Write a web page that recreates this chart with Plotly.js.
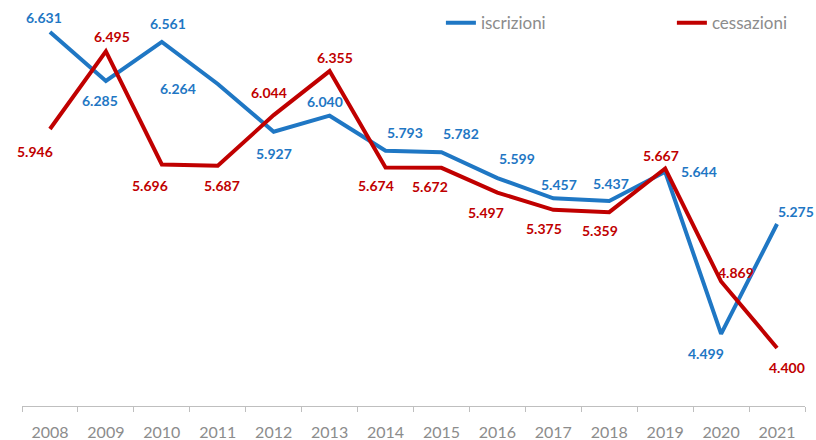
<!DOCTYPE html>
<html>
<head>
<meta charset="utf-8">
<script src="https://cdn.plot.ly/plotly-3.0.1.min.js"></script>
<style>html,body{margin:0;padding:0;background:#fff;}#chart{width:816px;height:440px;}</style>
</head>
<body>
<div id="chart"></div>
<script>
// ---- data ----
var years = ['2008','2009','2010','2011','2012','2013','2014','2015','2016','2017','2018','2019','2020','2021'];
var iscrizioni = [6631, 6285, 6561, 6264, 5927, 6040, 5793, 5782, 5599, 5457, 5437, 5644, 4499, 5275];
var cessazioni = [5946, 6495, 5696, 5687, 6044, 6355, 5674, 5672, 5497, 5375, 5359, 5667, 4869, 4400];

// ---- label placement (pixel offsets from each point) ----
var iscShiftX = [-6, -6, 6, -40, 0, -5, 19, 20, 20, 6, 2, 34, -15, 19];
var iscShiftY = [15, -19, 18, -5, -22, 14, 18, 19, 20, 14, 18, 0, -20, 13];
var cesShiftX = [-15, 6, -12, 4, -5, 5, -10, -11, -11, -9, -9, -4, 15, 10];
var cesShiftY = [-22, 15, -21, -20, 23, 14, -18, -19, -20, -19, -18, 13, 9, -20];

var BLUE = '#1f77c4';
var RED = '#c00000';
var FONT = 'Lato, "Liberation Sans", sans-serif';

function fmt(v) {
  var s = String(v);
  return s.length > 3 ? s.slice(0, s.length - 3) + '.' + s.slice(s.length - 3) : s;
}

var annotations = [];
function addLabels(vals, sx, sy, color) {
  for (var i = 0; i < vals.length; i++) {
    annotations.push({
      x: years.indexOf(years[i]), y: vals[i], xref: 'x', yref: 'y',
      text: fmt(vals[i]), showarrow: false,
      xshift: sx[i], yshift: sy[i],
      font: {family: FONT, size: 14, color: color, weight: 'bold'}
    });
  }
}
addLabels(iscrizioni, iscShiftX, iscShiftY, BLUE);
addLabels(cessazioni, cesShiftX, cesShiftY, RED);

var traces = [
  {x: years, y: iscrizioni, name: 'iscrizioni', type: 'scatter', mode: 'lines',
   line: {color: BLUE, width: 4}, hoverinfo: 'x+y', legend: 'legend'},
  {x: years, y: cessazioni, name: 'cessazioni', type: 'scatter', mode: 'lines',
   line: {color: RED, width: 4}, hoverinfo: 'x+y', legend: 'legend2'}
];

var legendStyle = function (xpos) {
  return {
    orientation: 'h', x: xpos, xanchor: 'left', y: 0.943, yanchor: 'middle',
    font: {family: FONT, size: 17, color: '#8c8c8c'},
    bgcolor: 'rgba(0,0,0,0)'
  };
};

var layout = {
  width: 816, height: 440,
  margin: {l: 22, r: 11, t: 0, b: 34},
  paper_bgcolor: '#ffffff', plot_bgcolor: '#ffffff',
  showlegend: true,
  legend: legendStyle(0.535),
  legend2: legendStyle(0.83),
  xaxis: {
    type: 'category', range: [-0.5, years.length - 0.5], autorange: false,
    showgrid: false, zeroline: false,
    showline: true, linecolor: '#bfbfbf', linewidth: 1,
    ticks: 'outside', tickson: 'boundaries', ticklen: 5, tickcolor: '#bfbfbf',
    ticklabelstandoff: 12,
    tickfont: {family: FONT, size: 16, color: '#8c8c8c'},
    fixedrange: true
  },
  yaxis: {
    range: [3990, 6857], autorange: false, visible: false, showgrid: false, zeroline: false, fixedrange: true
  },
  annotations: annotations
};

Plotly.newPlot('chart', traces, layout, {displayModeBar: false, staticPlot: true});
</script>
</body>
</html>
